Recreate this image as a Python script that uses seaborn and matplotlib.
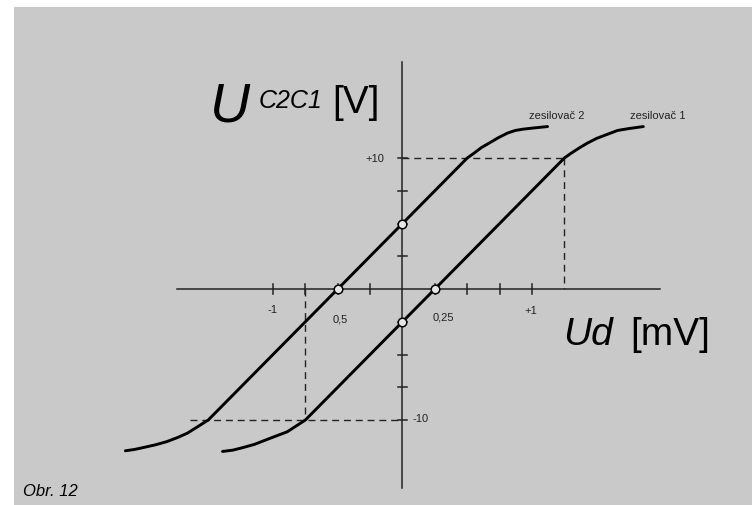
import matplotlib
matplotlib.use("Agg")
import matplotlib.pyplot as plt
import seaborn as sns
import pandas as pd
from matplotlib.patches import Rectangle

# body diagramu (Ud v mV, U v V)
ud_zes1 = [-1.39, -1.31, -1.23, -1.14, -1.05, -0.97, -0.89, -0.82, -0.75, 0.0, 0.25, 1.25,
           1.30, 1.37, 1.43, 1.50, 1.58, 1.66, 1.75, 1.86]
u_zes1 = [-12.4, -12.3, -12.1, -11.85, -11.5, -11.2, -10.9, -10.45, -10.0, -2.5, 0.0, 10.0,
          10.35, 10.8, 11.15, 11.5, 11.8, 12.1, 12.25, 12.4]
ud_zes2 = [-2.14, -2.07, -2.00, -1.91, -1.82, -1.74, -1.66, -1.58, -1.50, -0.5, 0.0, 0.50,
           0.55, 0.61, 0.68, 0.74, 0.81, 0.87, 0.93, 1.02, 1.12]
u_zes2 = [-12.35, -12.25, -12.1, -11.9, -11.65, -11.35, -11.0, -10.5, -10.0, 0.0, 5.0, 10.0,
          10.35, 10.8, 11.2, 11.55, 11.9, 12.1, 12.2, 12.3, 12.4]

kruzky_ud = [-0.5, 0.25, 0.0, 0.0]
kruzky_u = [0.0, 0.0, 5.0, -2.5]

ticky_ud = [-1.0, -0.75, -0.5, -0.25, 0.25, 0.5, 0.75, 1.0]
ticky_u = [-10.0, -7.5, -5.0, -2.5, 2.5, 5.0, 7.5, 10.0]

df = pd.DataFrame({
    "Ud": ud_zes1 + ud_zes2,
    "U": u_zes1 + u_zes2,
    "zesilovac": ["zesilovač 1"] * len(ud_zes1) + ["zesilovač 2"] * len(ud_zes2),
})

W, H = 752, 505
fig = plt.figure(figsize=(W / 100, H / 100), dpi=100)
fig.patch.set_facecolor("white")
fig.patches.append(Rectangle((14 / W, 0), 1, 1 - 7 / H, transform=fig.transFigure,
                             facecolor="#c9c9c9", edgecolor="none", zorder=-5))

ax = fig.add_axes([0, 0, 1, 1])
ax.set_facecolor("none")
ax.axis("off")
ax.set_xlim(-402.5 / 129.5, (W - 402.5) / 129.5)
ax.set_ylim(-(H - 289) / 13.1, 289 / 13.1)

# osy
ax.plot([-1.74, 1.99], [0, 0], color="#222222", lw=1.1, zorder=2)
ax.plot([0, 0], [-15.2, 17.3], color="#222222", lw=1.1, zorder=2)
for t in ticky_ud:
    ax.plot([t, t], [-0.35, 0.35], color="#222222", lw=1.1, zorder=2)
for t in ticky_u:
    ax.plot([-0.035, 0.035], [t, t], color="#222222", lw=1.1, zorder=2)

# pomocné čárkované čáry
dash = dict(color="#222222", lw=1.0, ls=(0, (5, 3.5)), zorder=2)
ax.plot([0, 1.25], [10, 10], **dash)
ax.plot([1.25, 1.25], [10, 0], **dash)
ax.plot([-1.64, 0], [-10, -10], **dash)
ax.plot([-0.75, -0.75], [0, -10], **dash)

sns.lineplot(data=df, x="Ud", y="U", hue="zesilovac", units="zesilovac", estimator=None,
             sort=False, palette=["black", "black"], linewidth=2.1, legend=False, ax=ax,
             zorder=3)
for line in ax.lines[-2:]:
    line.set_solid_capstyle("round")

ax.scatter(kruzky_ud, kruzky_u, s=38, facecolor="#e6e6e6", edgecolor="black",
           linewidth=1.1, zorder=4)


def px(x, y):
    return x / W, 1 - y / H


sans = "Liberation Sans"
fig.text(*px(210, 122), "U", fontsize=40, style="italic", family=sans, ha="left", va="baseline")
fig.text(*px(259, 108), "C2C1", fontsize=18, style="italic", family=sans, ha="left", va="baseline")
fig.text(*px(332, 113), "[V]", fontsize=28, family=sans, ha="left", va="baseline")
fig.text(*px(563, 345), "Ud", fontsize=28, style="italic", family=sans, ha="left", va="baseline")
fig.text(*px(630, 345), "[mV]", fontsize=28, family=sans, ha="left", va="baseline")

small = dict(fontsize=8, family=sans, color="#222222", va="center")
fig.text(*px(375, 159), "+10", ha="center", **small)
fig.text(*px(421, 419), "-10", ha="center", **small)
fig.text(*px(272, 310), "-1", ha="center", **small)
fig.text(*px(340, 320), "0,5", ha="center", **small)
fig.text(*px(443, 318), "0,25", ha="center", **small)
fig.text(*px(531, 311), "+1", ha="center", **small)
fig.text(*px(557, 116), "zesilovač 2", ha="center", **small)
fig.text(*px(658, 116), "zesilovač 1", ha="center", **small)

fig.text(*px(23, 492), "Obr. 12", fontsize=12, style="italic", family=sans,
         ha="left", va="center")

fig.savefig("out.png", dpi=100, facecolor=fig.get_facecolor())
